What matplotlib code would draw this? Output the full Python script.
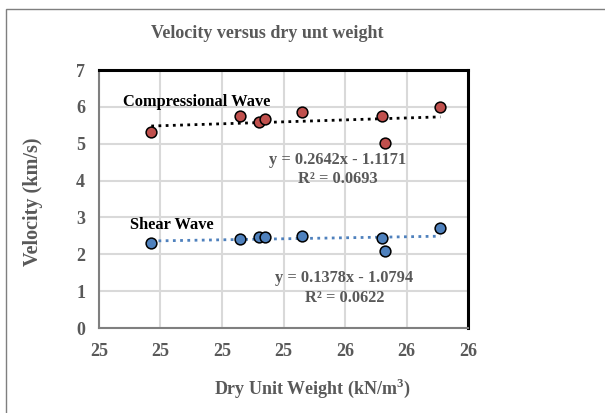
import numpy as np
import matplotlib
matplotlib.use('Agg')
import matplotlib.pyplot as plt
from matplotlib.ticker import FuncFormatter, MultipleLocator
from matplotlib.patches import Rectangle

# data
dryWeight = [24.97, 25.26, 25.32, 25.34, 25.46, 25.72, 25.73, 25.91]
vpValues = [5.31, 5.74, 5.58, 5.66, 5.86, 5.76, 5.03, 5.99]
vsValues = [2.31, 2.41, 2.47, 2.48, 2.50, 2.44, 2.10, 2.70]

vpFit = (0.2642, -1.1171, 0.0693)
vsFit = (0.1378, -1.0794, 0.0622)

title = 'Velocity versus dry unt weight'
xLabel = 'Dry Unit Weight (kN/m$^\\mathregular{3}$)'
yLabel = 'Velocity (km/s)'

grey = '#595959'
red = '#C0504D'
blue = '#4F81BD'

plt.rcParams['font.family'] = ['Liberation Serif', 'DejaVu Serif']
plt.rcParams['font.weight'] = 'bold'

fig = plt.figure(figsize=(6.05, 4.13), dpi=100)
ax = fig.add_axes([0.1636, 0.2058, 0.61, 0.6247])

# outer chart border (right and bottom edges fall outside the image)
fig.patches.append(Rectangle((6/605, -0.01), 1.05, 1 - 9/413 + 0.01, transform=fig.transFigure,
                             fill=False, edgecolor='#7f7f7f', linewidth=1.0))

x = np.array(dryWeight)
xs = np.array([x.min(), x.max()])

ax.plot(xs, vpFit[0]*xs + vpFit[1], linestyle=(0, (1, 1.6)), color='black', linewidth=2, zorder=2)
ax.plot(xs, vsFit[0]*xs + vsFit[1], linestyle=(0, (1, 1.6)), color=blue, linewidth=2, zorder=2)

ax.scatter(dryWeight, vpValues, s=60, color=red, edgecolor='black', linewidth=1.1, zorder=3)
ax.scatter(dryWeight, vsValues, s=60, color=blue, edgecolor='black', linewidth=1.1, zorder=3)

ax.set_xlim(24.8, 26.0)
ax.set_ylim(0, 7)
ax.xaxis.set_major_locator(MultipleLocator(0.2))
ax.yaxis.set_major_locator(MultipleLocator(1))
ax.xaxis.set_major_formatter(FuncFormatter(lambda v, p: '%d' % int(round(v + 1e-9))))
ax.grid(True, color='#d9d9d9', linewidth=1.5)
ax.set_axisbelow(True)
ax.tick_params(axis='x', length=0, pad=11, labelsize=13, labelcolor=grey)
ax.tick_params(axis='y', length=0, pad=10, labelsize=13, labelcolor=grey)
for lab in ax.get_xticklabels() + ax.get_yticklabels():
    lab.set_fontweight('bold')

ax.spines['top'].set_color('black')
ax.spines['top'].set_linewidth(2.2)
ax.spines['right'].set_color('black')
ax.spines['right'].set_linewidth(2.2)
ax.spines['left'].set_color('#7f7f7f')
ax.spines['left'].set_linewidth(1.5)
ax.spines['bottom'].set_color('#7f7f7f')
ax.spines['bottom'].set_linewidth(1.5)

ax.text(25.119, 6.13, 'Compressional Wave', ha='center', va='center', fontsize=11.8,
        fontweight='bold', color='black')
ax.text(25.038, 2.80, 'Shear Wave', ha='center', va='center', fontsize=11.8,
        fontweight='bold', color='black')
ax.text(25.575, 4.30, 'y = %.4fx - %.4f\nR² = %.4f' % (vpFit[0], -vpFit[1], vpFit[2]),
        ha='center', va='center', multialignment='center', fontsize=11.8,
        fontweight='bold', color=grey, linespacing=1.3)
ax.text(25.598, 1.09, 'y = %.4fx - %.4f\nR² = %.4f' % (vsFit[0], -vsFit[1], vsFit[2]),
        ha='center', va='center', multialignment='center', fontsize=11.8,
        fontweight='bold', color=grey, linespacing=1.3)

fig.text(267/605, 1 - 33/413, title, ha='center', va='center', fontsize=13,
         fontweight='bold', color=grey)
fig.text(312/605, 1 - 388/413, xLabel, ha='center', va='center', fontsize=13,
         fontweight='bold', color=grey)
fig.text(33/605, 1 - 202/413, yLabel, ha='center', va='center', rotation=90,
         fontsize=14.5, fontweight='bold', color=grey)

fig.savefig('out.png', dpi=100)
